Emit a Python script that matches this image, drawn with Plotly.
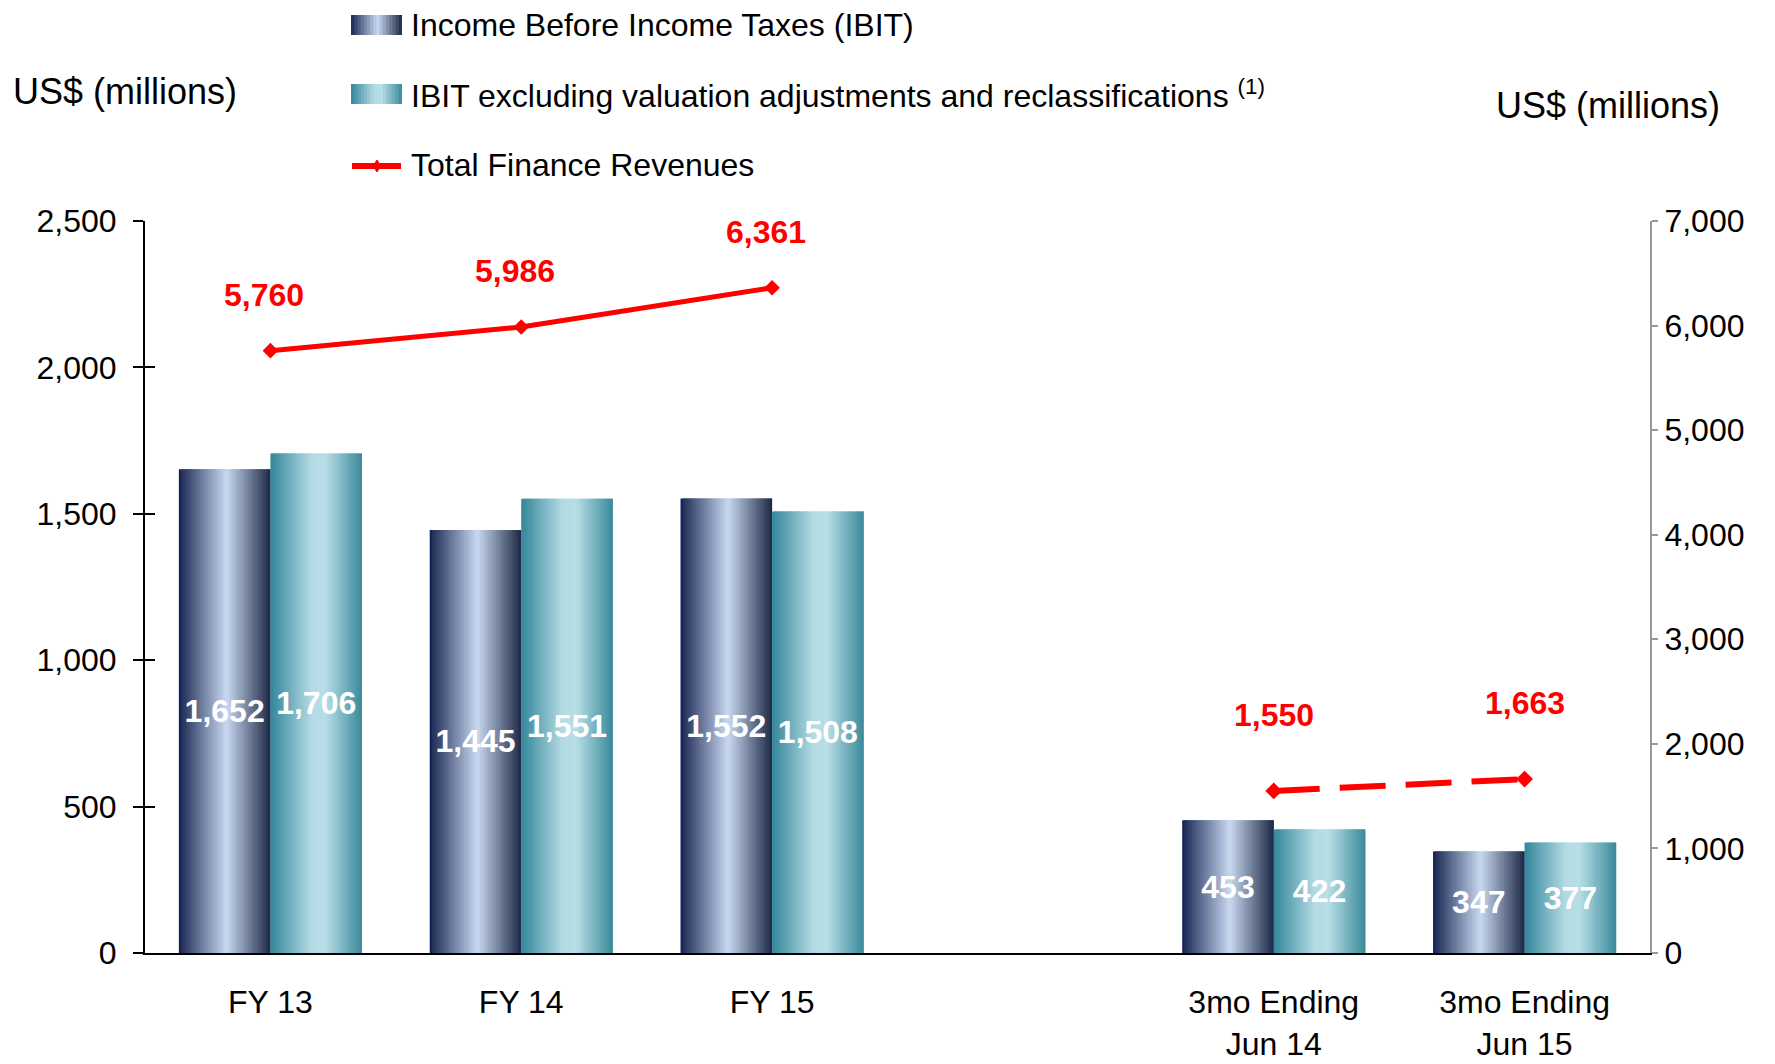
import plotly.graph_objects as go

# ---------------- data ----------------
categories = ["FY 13", "FY 14", "FY 15", "3mo Ending<br>Jun 14", "3mo Ending<br>Jun 15"]
gap_category = " "
ibit = [1652, 1445, 1552, 453, 347]
ibit_excl = [1706, 1551, 1508, 422, 377]
revenue_annual_cats = ["FY 13", "FY 14", "FY 15"]
revenue_annual = [5760, 5986, 6361]
revenue_quarter_cats = ["3mo Ending<br>Jun 14", "3mo Ending<br>Jun 15"]
revenue_quarter = [1550, 1663]
left_ticks = [0, 500, 1000, 1500, 2000, 2500]
right_ticks = [0, 1000, 2000, 3000, 4000, 5000, 6000, 7000]
series_names = ["Income Before Income Taxes (IBIT)",
                "IBIT excluding valuation adjustments and reclassifications <sup>(1)</sup>",
                "Total Finance Revenues"]

# ---------------- style ----------------
OFF = 8  # page body margin
W, H = 1775 - OFF, 1064 - OFF
L, R, T, B = 145 - OFF, 1650 - OFF, 221 - OFF, 953 - OFF
FONT = "Liberation Sans, Arial, sans-serif"
RED = "#ff0000"
BAR_W = 0.365
NSTRIP = 40

dark_stops = [(0.0, "#0e1a5a"), (0.03, "#22305a"), (0.52, "#c9d9f1"), (0.97, "#27334f"), (1.0, "#1b2646")]
light_stops = [(0.0, "#33869a"), (0.45, "#b4dbe4"), (0.6, "#b8dee6"), (1.0, "#3a899b")]


def hex2rgb(h):
    h = h.lstrip("#")
    return tuple(int(h[i:i + 2], 16) for i in (0, 2, 4))


def grad(stops, t):
    for (t0, c0), (t1, c1) in zip(stops[:-1], stops[1:]):
        if t0 <= t <= t1:
            f = 0 if t1 == t0 else (t - t0) / (t1 - t0)
            a, b = hex2rgb(c0), hex2rgb(c1)
            return "rgb(%d,%d,%d)" % tuple(round(a[i] + (b[i] - a[i]) * f) for i in range(3))
    return stops[-1][1]


def px_x(p):  # screen pixel -> paper
    return (p - OFF - L) / (R - L)


def px_y(p):
    return (B - (p - OFF)) / (B - T)


fig = go.Figure()

# placeholder so the empty gap category exists on the axis
fig.add_trace(go.Scatter(x=[gap_category], y=[0], mode="markers", marker=dict(opacity=0),
                         showlegend=False, hoverinfo="skip"))

# gradient bars built from vertical strips
for values, base, stops in ((ibit, -BAR_W, dark_stops), (ibit_excl, 0.0, light_stops)):
    sw = BAR_W / NSTRIP
    for k in range(NSTRIP):
        t = (k + 0.5) / NSTRIP
        fig.add_trace(go.Bar(
            x=categories, y=values, offset=base + k * sw, width=sw * (2 if k < NSTRIP - 1 else 1),
            marker=dict(color=grad(stops, t), line=dict(width=0)),
            showlegend=False, hoverinfo="skip"))
    # text carrier
    fig.add_trace(go.Bar(
        x=categories, y=values, offset=base, width=BAR_W,
        marker=dict(color="rgba(0,0,0,0)", line=dict(width=0)),
        text=[f"{v:,}" for v in values], textposition="inside", insidetextanchor="middle",
        textangle=0, constraintext="none",
        insidetextfont=dict(family=FONT, size=32, color="white", weight="bold"),
        showlegend=False, hoverinfo="skip"))

# revenue lines
fig.add_trace(go.Scatter(
    x=revenue_annual_cats, y=revenue_annual, yaxis="y2", mode="lines+markers",
    line=dict(color=RED, width=5), marker=dict(symbol="diamond", size=12, color=RED),
    showlegend=False, hoverinfo="skip"))
fig.add_trace(go.Scatter(
    x=revenue_quarter_cats, y=revenue_quarter, yaxis="y2", mode="lines+markers",
    line=dict(color=RED, width=6, dash="46px,20px"), marker=dict(symbol="diamond", size=13, color=RED),
    showlegend=False, hoverinfo="skip"))

annotations = []
for cats, vals, ys, xs in ((revenue_annual_cats, revenue_annual, 56, -6),
                           (revenue_quarter_cats, revenue_quarter, 76, 0)):
    for c, v in zip(cats, vals):
        annotations.append(dict(x=c, y=v, xref="x", yref="y2", text=f"{v:,}", showarrow=False,
                                yshift=ys, xshift=xs,
                                font=dict(family=FONT, size=32, color=RED, weight="bold")))

# manual legend
shapes = []
legend_rows = [(25, dark_stops), (94, light_stops)]
for yc, stops in legend_rows:
    n = 16
    x0, x1 = 351, 402
    for k in range(n):
        t = (k + 0.5) / n
        a = x0 + (x1 - x0) * k / n
        b = x0 + (x1 - x0) * (k + 2) / n if k < n - 1 else x1
        shapes.append(dict(type="rect", xref="paper", yref="paper",
                           x0=px_x(a), x1=px_x(b), y0=px_y(yc - 10), y1=px_y(yc + 10),
                           line=dict(width=0), fillcolor=grad(stops, t), layer="above"))
shapes.append(dict(type="line", xref="paper", yref="paper", x0=px_x(352), x1=px_x(401),
                   y0=px_y(166), y1=px_y(166), line=dict(color=RED, width=6)))
shapes.append(dict(type="path", xref="paper", yref="paper",
                   path="M %f %f L %f %f L %f %f L %f %f Z" % (
                       px_x(373), px_y(166), px_x(377), px_y(160), px_x(381), px_y(166), px_x(377), px_y(172)),
                   fillcolor=RED, line=dict(color=RED, width=1)))

for (yc, name) in zip([25, 94, 165], series_names):
    annotations.append(dict(x=px_x(409), y=px_y(yc), xref="paper", yref="paper", text=name,
                            xanchor="left", yanchor="middle", showarrow=False,
                            font=dict(family=FONT, size=32, color="black")))

annotations.append(dict(x=px_x(11), y=px_y(92), xref="paper", yref="paper", text="US$ (millions)",
                        xanchor="left", yanchor="middle", showarrow=False,
                        font=dict(family=FONT, size=36, color="black")))
annotations.append(dict(x=px_x(1722), y=px_y(105), xref="paper", yref="paper", text="US$ (millions)",
                        xanchor="right", yanchor="middle", showarrow=False,
                        font=dict(family=FONT, size=36, color="black")))

fig.update_layout(
    width=W, height=H, margin=dict(l=L, r=W - R, t=T, b=H - B, autoexpand=False),
    paper_bgcolor="white", plot_bgcolor="white", barmode="overlay", showlegend=False,
    xaxis=dict(type="category", categoryorder="array",
               categoryarray=categories[:3] + [gap_category] + categories[3:],
               range=[-0.5, 5.5], showline=True, linecolor="black", linewidth=2,
               ticks="", showgrid=False, zeroline=False, ticklabelstandoff=20,
               tickfont=dict(family=FONT, size=32, color="black")),
    yaxis=dict(range=[0, 2500], tickvals=left_ticks, tickformat=",", showline=True,
               linecolor="black", linewidth=2, ticks="outside", ticklen=10, tickwidth=2,
               tickcolor="black", showgrid=False, zeroline=False, ticklabelstandoff=10,
               tickfont=dict(family=FONT, size=32, color="black")),
    yaxis3=dict(range=[0, 2500], tickvals=left_ticks, overlaying="y", side="left", anchor="x",
                ticks="inside", ticklen=10, tickwidth=2, tickcolor="black",
                showticklabels=False, showline=False, showgrid=False, zeroline=False),
    yaxis2=dict(range=[0, 7000], tickvals=right_ticks, tickformat=",", overlaying="y",
                side="right", anchor="x", showline=True, linecolor="#999999", linewidth=2,
                ticks="outside", ticklen=6, tickwidth=1.5, tickcolor="#999999",
                showgrid=False, zeroline=False, ticklabelstandoff=0,
                tickfont=dict(family=FONT, size=32, color="black")),
    annotations=annotations, shapes=shapes,
)

# dummy trace to activate yaxis3 (inner tick marks)
fig.add_trace(go.Scatter(x=[gap_category], y=[0], yaxis="y3", mode="markers",
                         marker=dict(opacity=0), showlegend=False, hoverinfo="skip"))

fig.write_html("out.html")
